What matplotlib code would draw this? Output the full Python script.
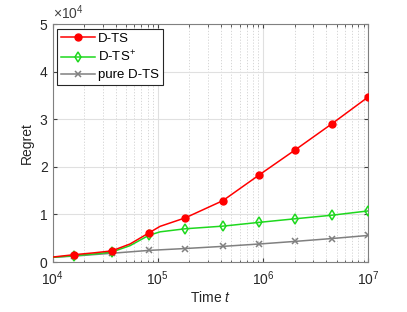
import matplotlib
matplotlib.use("Agg")
import matplotlib.pyplot as plt
from matplotlib.ticker import LogLocator, NullFormatter, FixedLocator

plt.rcParams['font.family'] = ['Liberation Sans', 'DejaVu Sans']
plt.rcParams['mathtext.fontset'] = 'custom'
plt.rcParams['mathtext.rm'] = 'Liberation Sans'
plt.rcParams['mathtext.it'] = 'Liberation Sans:italic'

# line data
t_red = [1e4, 1.6e4, 2.5e4, 3.65e4, 5.45e4, 8.2e4, 1.05e5, 1.83e5, 4.15e5, 9.25e5, 2.03e6, 4.54e6, 1e7]
r_red = [1050, 1550, 1950, 2350, 3800, 6100, 7500, 9300, 12900, 18350, 23600, 29100, 34700]
t_green = [1e4, 1.6e4, 2.5e4, 3.65e4, 5.45e4, 8.2e4, 1.05e5, 1.83e5, 4.15e5, 9.25e5, 2.03e6, 4.54e6, 1e7]
r_green = [1000, 1350, 1700, 2100, 3450, 5600, 6350, 7000, 7550, 8350, 9100, 9850, 10750]
t_gray = [1e4, 1.6e4, 3.65e4, 8.2e4, 1.83e5, 4.15e5, 9.25e5, 2.03e6, 4.54e6, 1e7]
r_gray = [1000, 1250, 1850, 2450, 2850, 3300, 3800, 4350, 4950, 5600]

# marker positions (indices into line data)
mk_red = [1, 3, 5, 7, 8, 9, 10, 11, 12]
mk_green = [1, 3, 5, 7, 8, 9, 10, 11, 12]
mk_gray = [1, 2, 3, 4, 5, 6, 7, 8, 9]

labels = ['D-TS', 'D-TS$^{+}$', 'pure D-TS']

fig = plt.figure(figsize=(4.07, 3.12), dpi=100)
ax = fig.add_axes([0.129, 0.160, 0.776, 0.763])

ax.plot(t_red, r_red, color='#ff0000', lw=1.1, marker='o', ms=5,
        markevery=mk_red, mfc='#ff0000', mec='#ff0000', label=labels[0], zorder=5)
ax.plot(t_green, r_green, color='#1ed81e', lw=1.1, marker='d', ms=5.5,
        markevery=mk_green, mfc='none', mec='#1ed81e', mew=1.1, label=labels[1], zorder=4)
ax.plot(t_gray, r_gray, color='#808080', lw=1.1, marker='x', ms=4.5,
        markevery=mk_gray, mec='#808080', mew=1.1, label=labels[2], zorder=3)

ax.set_xscale('log')
ax.set_xlim(1e4, 1e7)
ax.set_ylim(0, 5e4)
ax.set_yticks([0, 1e4, 2e4, 3e4, 4e4, 5e4])
ax.set_yticklabels(['0', '1', '2', '3', '4', '5'])
ax.xaxis.set_major_locator(FixedLocator([1e4, 1e5, 1e6, 1e7]))
ax.set_xticklabels(['$10^{4}$', '$10^{5}$', '$10^{6}$', '$10^{7}$'])
ax.xaxis.set_minor_locator(LogLocator(base=10, subs=range(2, 10)))
ax.xaxis.set_minor_formatter(NullFormatter())

ax.grid(True, which='major', color='#e0e0e0', lw=0.8, ls='-')
ax.grid(True, which='minor', axis='x', color='#d0d0d0', lw=0.6, ls=(0, (1.5, 2)))
ax.set_axisbelow(True)

for s in ax.spines.values():
    s.set_color('#808080')
    s.set_linewidth(0.8)
ax.tick_params(which='both', direction='in', top=True, right=True, colors='#404040',
               labelcolor='#262626', labelsize=10)
ax.tick_params(which='major', length=3)
ax.tick_params(which='minor', length=1.8)
ax.tick_params(axis='x', pad=5)

ax.set_xlabel('Time $t$', fontsize=10, color='#262626', labelpad=2)
ax.set_ylabel('Regret', fontsize=10, color='#262626', labelpad=4)
ax.text(0.0, 1.01, r'$\times10^{4}$', transform=ax.transAxes, fontsize=10,
        color='#404040', ha='left', va='bottom')

leg = ax.legend(loc='upper left', fontsize=9.5, frameon=True, fancybox=False,
                edgecolor='#262626', framealpha=1, borderpad=0.3, handlelength=2.6,
                handletextpad=0.2, labelspacing=0.35, borderaxespad=0.35)
leg.get_frame().set_linewidth(0.8)
leg._legend_box.sep = 2

fig.savefig('out.png', dpi=100)
